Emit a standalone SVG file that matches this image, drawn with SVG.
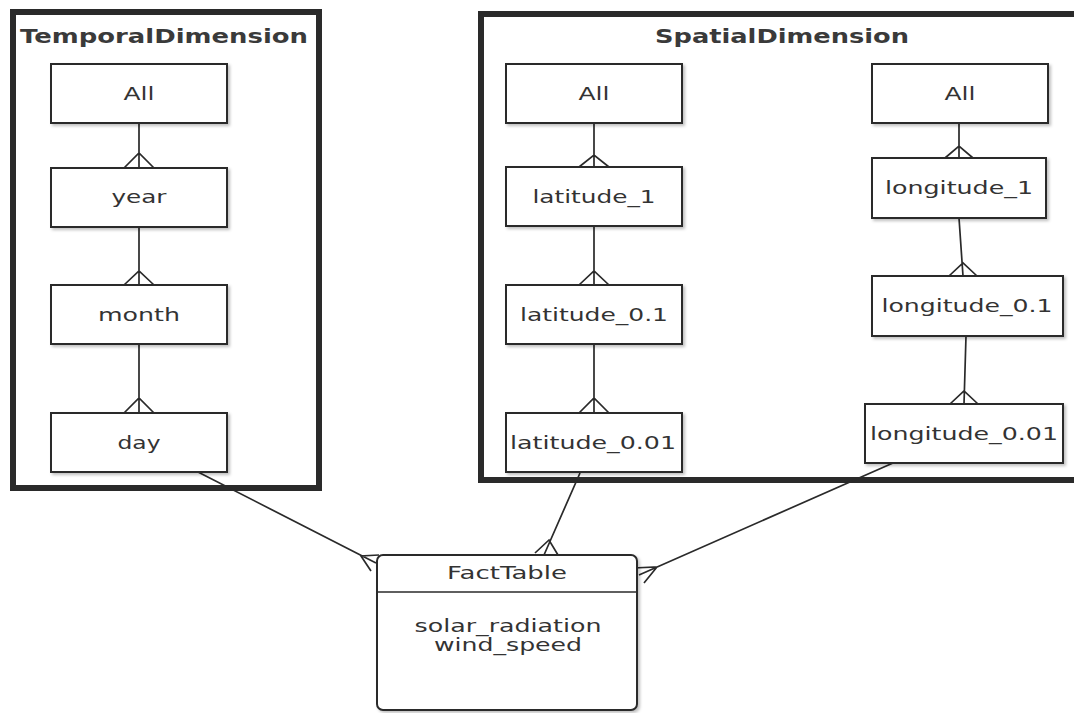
<svg xmlns="http://www.w3.org/2000/svg" width="1074" height="713" viewBox="0 0 1074 713">
<style>
.frame{fill:#fff;stroke:#2a2a2a;stroke-width:6}
.box{fill:#fff;stroke:#2a2a2a;stroke-width:2}
.conn{fill:none;stroke:#2a2a2a;stroke-width:1.7}
.title{font-family:"DejaVu Sans","Liberation Sans",sans-serif;font-weight:bold;font-size:20px;fill:#3a3a3a;text-anchor:middle}
.lbl{font-family:"DejaVu Sans","Liberation Sans",sans-serif;font-size:18px;fill:#333;text-anchor:middle}
</style>
<defs>
<filter id="sh" x="-10%" y="-10%" width="130%" height="130%">
<feDropShadow dx="2" dy="2" stdDeviation="1.8" flood-color="#000" flood-opacity="0.25"/>
</filter>
</defs>
<rect width="1074" height="713" fill="#fff"/>

<g id="TemporalDimension">
<rect class="frame" x="13" y="12" width="306" height="476"/>
<text class="title" x="164" y="43" textLength="288" lengthAdjust="spacingAndGlyphs">TemporalDimension</text>
</g>
<g id="SpatialDimension">
<rect class="frame" x="481" y="14" width="620" height="466"/>
<text class="title" x="782" y="43" textLength="254" lengthAdjust="spacingAndGlyphs">SpatialDimension</text>
</g>

<g id="connectors">
<path class="conn" d="M139 123V168M124 168L139 153L154 168"/>
<path class="conn" d="M139 227V285M124 285L139 271L154 285"/>
<path class="conn" d="M139 344V413M124 413L139 398L154 413"/>
<path class="conn" d="M594 123V167M579 167L594 155L609 167"/>
<path class="conn" d="M594 226V285M579 285L594 271L609 285"/>
<path class="conn" d="M594 344V413M579 413L594 398L609 413"/>
<path class="conn" d="M959 123V158M945 158L959 146L973 158"/>
<path class="conn" d="M959 218L963 276M949 276L963 263L977 276"/>
<path class="conn" d="M966 336L964 404M950 404L964 391L978 404"/>
<path class="conn" d="M198 472L376 563M371 571L361 556L379 555"/>
<path class="conn" d="M580 473L544 555M535 553L549 540L558 555"/>
<path class="conn" d="M893 463L639 575M644 583L657 567L633 568"/>
</g>

<g id="T_All"><rect class="box" x="51" y="64" width="176" height="59" filter="url(#sh)"/><text class="lbl" x="139" y="100" textLength="31" lengthAdjust="spacingAndGlyphs">All</text></g>
<g id="T_year"><rect class="box" x="51" y="168" width="176" height="59" filter="url(#sh)"/><text class="lbl" x="139" y="203" textLength="55" lengthAdjust="spacingAndGlyphs">year</text></g>
<g id="T_month"><rect class="box" x="51" y="285" width="176" height="59" filter="url(#sh)"/><text class="lbl" x="139" y="321" textLength="82" lengthAdjust="spacingAndGlyphs">month</text></g>
<g id="T_day"><rect class="box" x="51" y="413" width="176" height="59" filter="url(#sh)"/><text class="lbl" x="139" y="449" textLength="43" lengthAdjust="spacingAndGlyphs">day</text></g>

<g id="S_All_lat"><rect class="box" x="506" y="64" width="176" height="59" filter="url(#sh)"/><text class="lbl" x="594" y="100" textLength="31" lengthAdjust="spacingAndGlyphs">All</text></g>
<g id="latitude_1"><rect class="box" x="506" y="167" width="176" height="59" filter="url(#sh)"/><text class="lbl" x="594" y="203" textLength="123" lengthAdjust="spacingAndGlyphs">latitude_1</text></g>
<g id="latitude_0.1"><rect class="box" x="506" y="285" width="176" height="59" filter="url(#sh)"/><text class="lbl" x="594" y="321" textLength="148" lengthAdjust="spacingAndGlyphs">latitude_0.1</text></g>
<g id="latitude_0.01"><rect class="box" x="506" y="413" width="176" height="59" filter="url(#sh)"/><text class="lbl" x="593" y="449" textLength="166" lengthAdjust="spacingAndGlyphs">latitude_0.01</text></g>

<g id="S_All_lon"><rect class="box" x="872" y="64" width="176" height="59" filter="url(#sh)"/><text class="lbl" x="960" y="100" textLength="31" lengthAdjust="spacingAndGlyphs">All</text></g>
<g id="longitude_1"><rect class="box" x="872" y="158" width="174" height="60" filter="url(#sh)"/><text class="lbl" x="959" y="194" textLength="148" lengthAdjust="spacingAndGlyphs">longitude_1</text></g>
<g id="longitude_0.1"><rect class="box" x="872" y="276" width="191" height="60" filter="url(#sh)"/><text class="lbl" x="967" y="312" textLength="171" lengthAdjust="spacingAndGlyphs">longitude_0.1</text></g>
<g id="longitude_0.01"><rect class="box" x="865" y="404" width="198" height="59" filter="url(#sh)"/><text class="lbl" x="964" y="440" textLength="188" lengthAdjust="spacingAndGlyphs">longitude_0.01</text></g>

<g id="FactTable">
<rect class="box" x="377" y="555" width="260" height="155" rx="6" filter="url(#sh)"/>
<line x1="377" y1="592" x2="637" y2="592" stroke="#2a2a2a" stroke-width="1.6"/>
<text class="lbl" x="507" y="579" textLength="120" lengthAdjust="spacingAndGlyphs">FactTable</text>
<text class="lbl" x="508" y="632" textLength="187" lengthAdjust="spacingAndGlyphs">solar_radiation</text>
<text class="lbl" x="508" y="651" textLength="148" lengthAdjust="spacingAndGlyphs">wind_speed</text>
</g>
</svg>
